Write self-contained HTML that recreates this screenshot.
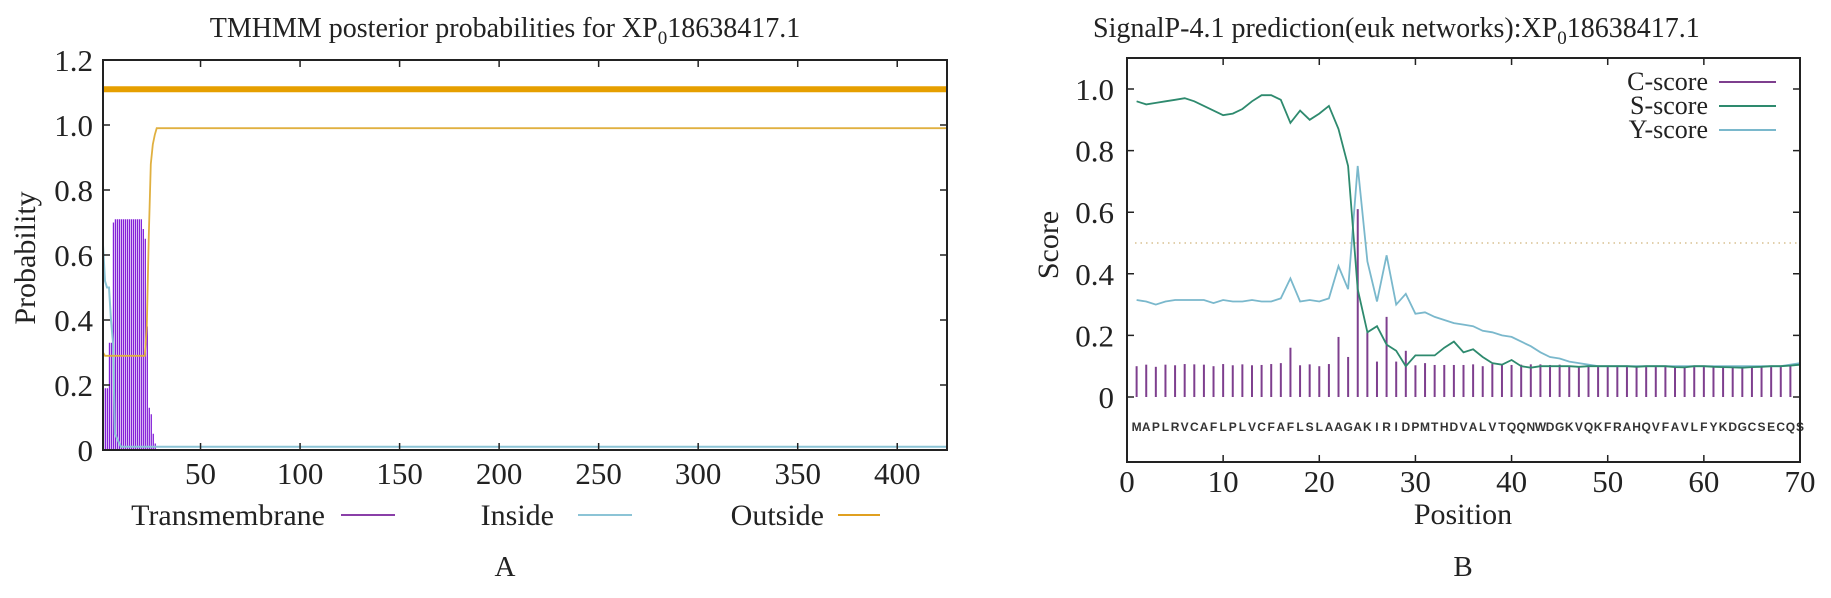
<!DOCTYPE html>
<html><head><meta charset="utf-8"><style>
body{margin:0;background:#fff;}
svg{display:block;font-family:"Liberation Serif",serif;}
</style></head><body>
<svg id="fig" width="1831" height="598" viewBox="0 0 1831 598">
<rect width="1831" height="598" fill="#fff"/>
<g id="pa"></g>
<g id="pb"></g>
</svg>
<script>
// ---------- Panel A data (TMHMM) ----------
const tmPos = [1,2,3,4,5,6,7,8,9,10,11,12,13,14,15,16,17,18,19,20,21,22,23,24,25,26,27];
const tmVal = [0.19,0.19,0.19,0.33,0.33,0.70,0.71,0.71,0.71,0.71,0.71,0.71,0.71,0.71,0.71,0.71,0.71,0.71,0.71,0.71,0.68,0.65,0.38,0.13,0.11,0.05,0.02];
const inPos = [1,2,3,4,5,6,7,10,20,24,26,28,425];
const inVal = [0.63,0.52,0.50,0.50,0.40,0.33,0.05,0.01,0.01,0.01,0.01,0.01,0.01];
const outPos = [1,2,22,23,24,25,26,27,28,425];
const outVal = [0.30,0.29,0.29,0.38,0.66,0.88,0.94,0.97,0.99,0.99];
const outTopVal = 1.11;
const aXTicks = [50,100,150,200,250,300,350,400];
const aYTicks = [0,0.2,0.4,0.6,0.8,1.0,1.2];
const aYLabels = ["0","0.2","0.4","0.6","0.8","1.0","1.2"];

// ---------- Panel B data (SignalP) ----------
const seq = "MAPLRVCAFLPLVCFAFLSLAAGAKIRIDPMTHDVALVTQQNWDGKVQKFRAHQVFAVLFYKDGCSECQS";
const cScore = [0.10,0.105,0.098,0.105,0.103,0.107,0.106,0.105,0.10,0.107,0.103,0.106,0.103,0.104,0.107,0.11,0.16,0.103,0.106,0.10,0.107,0.195,0.13,0.61,0.21,0.115,0.26,0.115,0.15,0.103,0.11,0.104,0.104,0.104,0.104,0.106,0.10,0.107,0.107,0.104,0.105,0.106,0.106,0.104,0.105,0.10,0.10,0.102,0.10,0.10,0.102,0.10,0.101,0.10,0.10,0.102,0.10,0.10,0.101,0.10,0.10,0.10,0.10,0.10,0.101,0.10,0.10,0.10,0.102,0.10];
const sScore = [0.96,0.95,0.955,0.96,0.965,0.97,0.96,0.945,0.93,0.915,0.92,0.935,0.96,0.98,0.98,0.965,0.89,0.93,0.90,0.92,0.945,0.87,0.75,0.35,0.21,0.23,0.17,0.15,0.10,0.135,0.135,0.135,0.16,0.18,0.145,0.155,0.13,0.11,0.105,0.12,0.10,0.095,0.10,0.10,0.10,0.10,0.098,0.10,0.10,0.10,0.10,0.10,0.098,0.10,0.10,0.10,0.097,0.096,0.10,0.10,0.098,0.097,0.096,0.095,0.097,0.098,0.10,0.10,0.102,0.105];
const yScore = [0.315,0.31,0.30,0.31,0.315,0.315,0.315,0.315,0.305,0.315,0.31,0.31,0.315,0.31,0.31,0.32,0.385,0.31,0.315,0.31,0.32,0.425,0.35,0.75,0.44,0.31,0.46,0.30,0.335,0.27,0.275,0.26,0.25,0.24,0.235,0.23,0.215,0.21,0.20,0.195,0.18,0.165,0.145,0.13,0.125,0.115,0.11,0.105,0.10,0.10,0.10,0.10,0.10,0.10,0.10,0.10,0.10,0.10,0.10,0.10,0.10,0.10,0.10,0.10,0.10,0.10,0.10,0.10,0.105,0.11];
const threshold = 0.5;
const bXTicks = [0,10,20,30,40,50,60,70];
const bYTicks = [0,0.2,0.4,0.6,0.8,1.0];
const bYLabels = ["0","0.2","0.4","0.6","0.8","1.0"];

const NS="http://www.w3.org/2000/svg";
function mk(parent,tag,attrs,text){const e=document.createElementNS(NS,tag);for(const k in attrs)e.setAttribute(k,attrs[k]);if(text!==undefined)e.textContent=text;parent.appendChild(e);return e;}

// ---------- Panel A ----------
(function(){
const g=document.getElementById('pa');
const L=103,R=947,T=60,B=450;
const xA=v=>L+(v-1)*(R-L)/424;
const yA=v=>B-v*(B-T)/1.2;
let t=mk(g,'text',{x:505,y:37,'font-size':28,'text-anchor':'middle',fill:'#222'});


t.innerHTML='TMHMM posterior probabilities for XP<tspan font-size="19" dy="7">0</tspan><tspan dy="-7">18638417.1</tspan>';
let l=mk(g,'line',{x1:L,x2:R,y1:yA(outTopVal),y2:yA(outTopVal),stroke:'#e69f00','stroke-width':6});


tmPos.forEach((p,i)=>{
  const b=mk(g,'line',{x1:xA(p)+0.5,x2:xA(p)+0.5,y1:B,y2:yA(tmVal[i]),stroke:'#8420d8','stroke-width':1.3});
  
  
});
function stepPath(xs,ys,xf,yf){let d='';xs.forEach((x,i)=>{d+=(i?'L':'M')+xf(x).toFixed(1)+' '+yf(ys[i]).toFixed(1);});return d;}
let p=mk(g,'path',{d:stepPath(inPos,inVal,xA,yA),fill:'none',stroke:'#8cc4d6','stroke-width':2});


p=mk(g,'path',{d:stepPath(outPos,outVal,xA,yA),fill:'none',stroke:'#e0b040','stroke-width':1.8});


let f=mk(g,'rect',{x:L,y:T,width:R-L,height:B-T,fill:'none',stroke:'#222','stroke-width':2});


aXTicks.forEach(v=>{
  const x=xA(v);
  let k=mk(g,'path',{d:`M${x} ${B}v-7M${x} ${T}v7`,stroke:'#222','stroke-width':1.5});
  
  
  let s=mk(g,'text',{x:x,y:484,'font-size':31,'text-anchor':'middle',fill:'#222'},String(v));
  
  
});
aYTicks.forEach((v,i)=>{
  const y=yA(v);
  let k=mk(g,'path',{d:`M${L} ${y}h7M${R} ${y}h-7`,stroke:'#222','stroke-width':1.5});
  
  
  let s=mk(g,'text',{x:93,y:y+11,'font-size':31,'text-anchor':'end',fill:'#222'},aYLabels[i]);
  
  
});
let yl=mk(g,'text',{x:0,y:0,'font-size':30,'text-anchor':'middle',fill:'#222',transform:'translate(35,258) rotate(-90)'},'Probability');


const leg=[['Transmembrane',325,341,395,'#8a3fa8'],['Inside',554,578,632,'#8cc4d6'],['Outside',824,838,880,'#e0a020']];
leg.forEach(e=>{
  let s=mk(g,'text',{x:e[1],y:525,'font-size':30,'text-anchor':'end',fill:'#222'},e[0]);
  
  
  let ln=mk(g,'line',{x1:e[2],x2:e[3],y1:515,y2:515,stroke:e[4],'stroke-width':2});
  
  
});
let a=mk(g,'text',{x:505,y:576,'font-size':29,'text-anchor':'middle',fill:'#222'},'A');


})();

// ---------- Panel B ----------
(function(){
const g=document.getElementById('pb');
const L=1127,R=1800,T=58,B=462;
const y0=397,unit=308;
const xB=v=>L+v*(R-L)/70;
const yB=v=>y0-v*unit;
let t=mk(g,'text',{x:1093,y:37,'font-size':28,fill:'#222'});


t.innerHTML='SignalP-4.1 prediction(euk networks):XP<tspan font-size="19" dy="7">0</tspan><tspan dy="-7">18638417.1</tspan>';
let th=mk(g,'line',{x1:L+8,x2:R-2,y1:yB(threshold),y2:yB(threshold),stroke:'#d8c090','stroke-width':1.5,'stroke-dasharray':'1.5 4'});


cScore.forEach((v,i)=>{
  const x=xB(i+1);
  const b=mk(g,'line',{x1:x,x2:x,y1:yB(0),y2:yB(v),stroke:'#7e3f8e','stroke-width':2});
  
  
});
function line(arr,col,name){let d='';arr.forEach((v,i)=>{d+=(i?'L':'M')+xB(i+1).toFixed(1)+' '+yB(v).toFixed(1);});
  const p=mk(g,'path',{d:d,fill:'none',stroke:col,'stroke-width':1.8});
  
  }
line(yScore,'#7ab8cc','y-score-line');
line(sScore,'#2e8a6e','s-score-line');
seq.split('').forEach((c,i)=>{
  const s=mk(g,'text',{x:xB(i+1),y:431,'font-size':12,'font-family':'Liberation Sans, sans-serif','font-weight':'bold','text-anchor':'middle',fill:'#333'},c);
  
  
});
let f=mk(g,'rect',{x:L,y:T,width:R-L,height:B-T,fill:'none',stroke:'#222','stroke-width':2});


bXTicks.forEach(v=>{
  const x=xB(v);
  let k=mk(g,'path',{d:`M${x} ${B}v-7M${x} ${T}v7`,stroke:'#222','stroke-width':1.5});
  
  
  let s=mk(g,'text',{x:x,y:492,'font-size':31,'text-anchor':'middle',fill:'#222'},String(v));
  
  
});
bYTicks.forEach((v,i)=>{
  const y=yB(v);
  let k=mk(g,'path',{d:`M${L} ${y}h7M${R} ${y}h-7`,stroke:'#222','stroke-width':1.5});
  
  
  let s=mk(g,'text',{x:1114,y:y+11,'font-size':31,'text-anchor':'end',fill:'#222'},bYLabels[i]);
  
  
});
let yl=mk(g,'text',{x:0,y:0,'font-size':30,'text-anchor':'middle',fill:'#222',transform:'translate(1058,245) rotate(-90)'},'Score');


let xl=mk(g,'text',{x:1463,y:524,'font-size':30,'text-anchor':'middle',fill:'#222'},'Position');


const leg=[['C-score',82,'#7e3f8e'],['S-score',106,'#2e8a6e'],['Y-score',130,'#7ab8cc']];
leg.forEach(e=>{
  let s=mk(g,'text',{x:1708,y:e[1]+8,'font-size':26,'text-anchor':'end',fill:'#222'},e[0]);
  
  
  let ln=mk(g,'line',{x1:1719,x2:1776,y1:e[1],y2:e[1],stroke:e[2],'stroke-width':2});
  
  
});
let b=mk(g,'text',{x:1463,y:576,'font-size':29,'text-anchor':'middle',fill:'#222'},'B');


})();
</script>
</body></html>
